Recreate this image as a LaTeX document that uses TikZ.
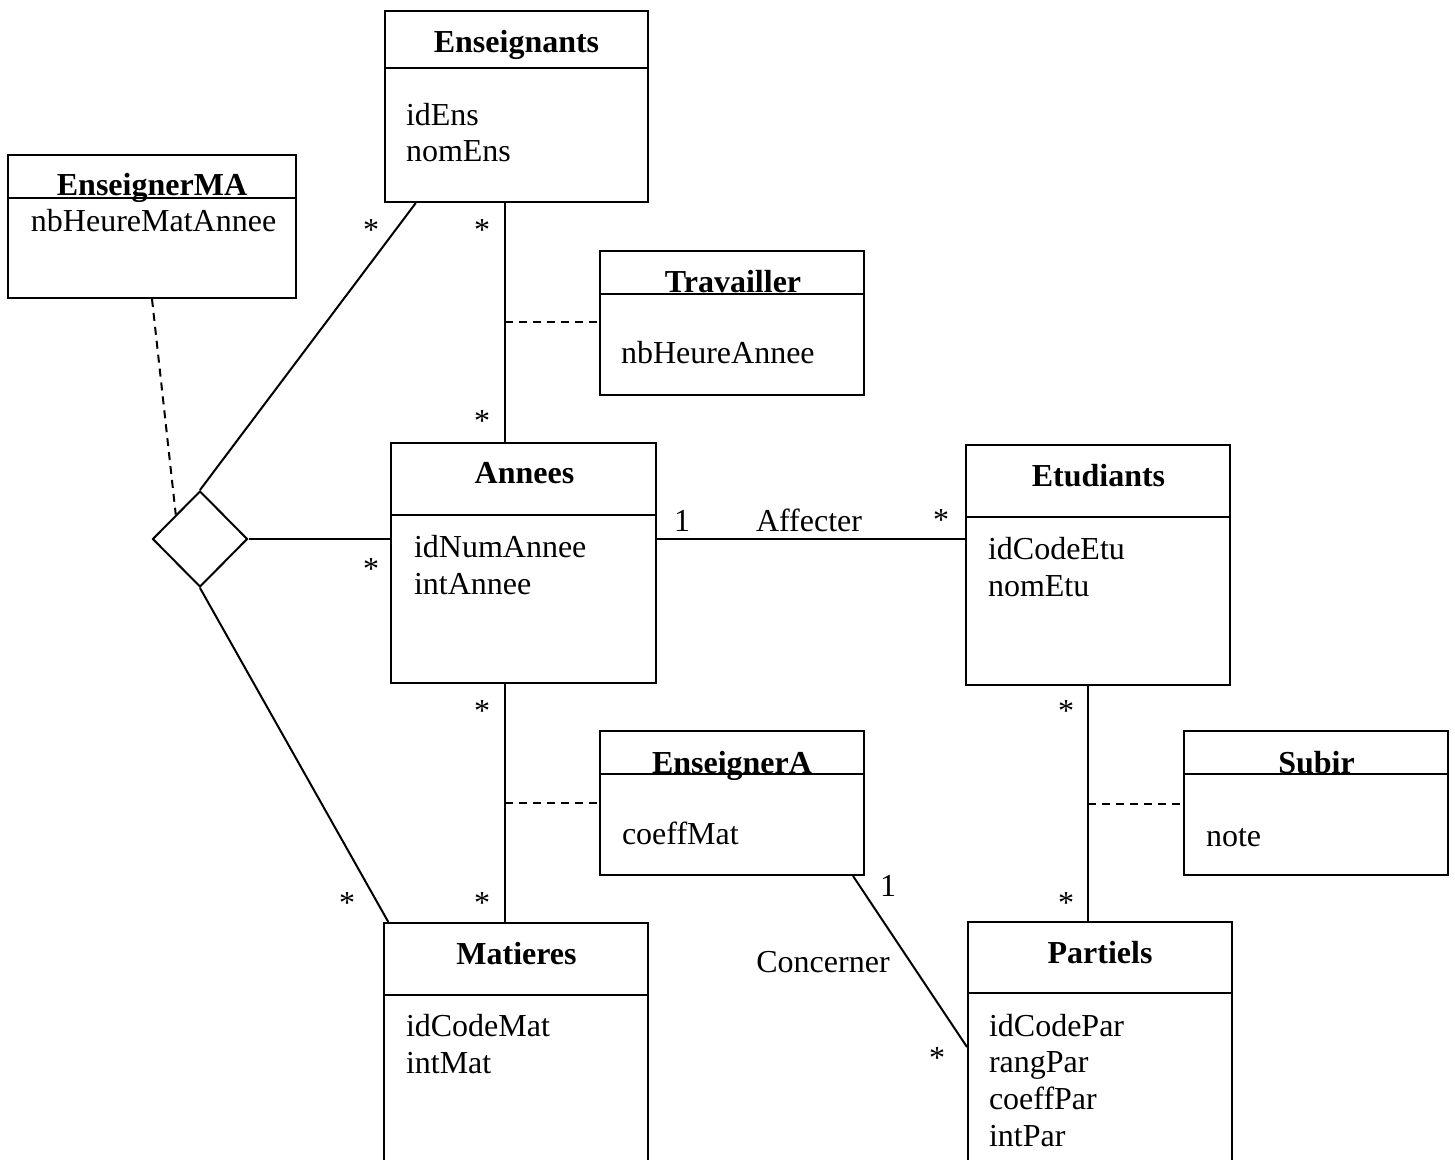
\documentclass[tikz,border=0pt]{standalone}
\usepackage{fontspec}
\setmainfont{Liberation Serif}
\usetikzlibrary{shapes.geometric,calc}

\begin{document}
\begin{tikzpicture}[x=0.5pt,y=-0.5pt,line width=1pt,
  every node/.style={inner sep=0pt,font=\fontsize{16pt}{18.3pt}\selectfont},
  classbox/.style={draw},
  classname/.style={anchor=base,font=\fontsize{16pt}{18.3pt}\selectfont\bfseries},
  attrs/.style={anchor=base west,align=left},
  mult/.style={anchor=base},
  assocdash/.style={dash pattern=on 4pt off 3pt}]
\path[use as bounding box] (0,0) rectangle (1455,1160);

% classes (attrs anchored at the baseline of their last line)
\node[classbox,minimum width=131.5pt,minimum height=95.5pt] (ens) at (516.5,106.5) {};
\draw (385,68) -- (648,68);
\node[classname] (ensTitle) at (516.5,53) {Enseignants};
\node[attrs] (ensAttr) at (405,162) {idEns\\nomEns};

\node[classbox,minimum width=144pt,minimum height=71.5pt] (ema) at (152,226.5) {};
\draw (8,198) -- (296,198);
\node[classname] (emaTitle) at (152,196) {EnseignerMA};
\node[attrs] (emaAttr) at (30,232) {nbHeureMatAnnee};

\node[classbox,minimum width=132pt,minimum height=72pt] (trav) at (732,323) {};
\draw (600,294) -- (864,294);
\node[classname] (travTitle) at (733,293) {Travailler};
\node[attrs] (travAttr) at (620,364) {nbHeureAnnee};

\node[classbox,minimum width=132.5pt,minimum height=120pt] (ann) at (523.5,563) {};
\draw (391,515) -- (656,515);
\node[classname] (annTitle) at (524.5,483) {Annees};
\node[attrs] (annAttr) at (413,594) {idNumAnnee\\intAnnee};

\node[classbox,minimum width=132pt,minimum height=120pt] (etu) at (1098,565) {};
\draw (966,517) -- (1230,517);
\node[classname] (etuTitle) at (1098.5,486) {Etudiants};
\node[attrs] (etuAttr) at (987,596) {idCodeEtu\\nomEtu};

\node[classbox,minimum width=132pt,minimum height=72pt] (esa) at (732,803) {};
\draw (600,774) -- (864,774);
\node[classname] (esaTitle) at (732,773) {EnseignerA};
\node[attrs] (esaAttr) at (621,844) {coeffMat};

\node[classbox,minimum width=132pt,minimum height=72pt] (sub) at (1316,803) {};
\draw (1184,774) -- (1448,774);
\node[classname] (subTitle) at (1316.5,773) {Subir};
\node[attrs] (subAttr) at (1205,846) {note};

\node[classbox,minimum width=132pt,minimum height=138.5pt] (mat) at (516,1061.5) {};
\draw (384,995) -- (648,995);
\node[classname] (matTitle) at (516.5,964) {Matieres};
\node[attrs] (matAttr) at (405,1073) {idCodeMat\\intMat};

\node[classbox,minimum width=132pt,minimum height=139pt] (par) at (1100,1061) {};
\draw (968,993) -- (1232,993);
\node[classname] (parTitle) at (1100,963) {Partiels};
\node[attrs] (parAttr) at (988,1146) {idCodePar\\rangPar\\coeffPar\\intPar};

% ternary association
\node[draw,diamond,minimum width=47.5pt,minimum height=48pt] (tern) at (200,539) {};

% associations
\coordinate (colA) at (505,0);
\coordinate (colE) at (1088,0);
\draw (ens.south -| colA) -- coordinate (m1) (ann.north -| colA);
\draw[assocdash] (m1) -- (trav.west |- m1);
\draw (ann.south -| colA) -- coordinate (m2) (mat.north -| colA);
\draw[assocdash] (m2) -- (esa.west |- m2);
\draw (etu.south -| colE) -- coordinate (m3) (par.north -| colE);
\draw[assocdash] (m3) -- (sub.west |- m3);
\draw (ann.east |- tern) -- (etu.west |- tern);
\draw (tern.east) -- (ann.west |- tern);
\draw (tern.north) -- ($(ens.south west)!0.12!(ens.south east)$);
\draw (tern.south) -- ($(mat.north west)!0.02!(mat.north east)$);
\draw[assocdash] (ema.south) -- ($(tern.west)!0.5!(tern.north)$);
\draw ($(esa.south west)!0.955!(esa.south east)$) -- ($(par.north west)!0.45!(par.south west)$);

% multiplicities and names
\node[mult] (mEnsT) at (371,241) {*};
\node[mult] (mEnsA) at (482,241) {*};
\node[mult] (mAnnE) at (482,431) {*};
\node[mult] (mAnnT) at (371,579) {*};
\node[mult] (mAnnM) at (482,721) {*};
\node[mult] (mMatA) at (482,913) {*};
\node[mult] (mMatT) at (347,913) {*};
\node[mult] (mAnnEtu) at (682,531) {1};
\node[mult] (affLabel) at (809,531) {Affecter};
\node[mult] (mEtuAnn) at (941,530) {*};
\node[mult] (mEtuP) at (1066,721) {*};
\node[mult] (mParE) at (1066,913) {*};
\node[mult] (mEsaP) at (888,896) {1};
\node[mult] (conLabel) at (823,972) {Concerner};
\node[mult] (mParEsa) at (937,1068) {*};
\end{tikzpicture}
\end{document}
